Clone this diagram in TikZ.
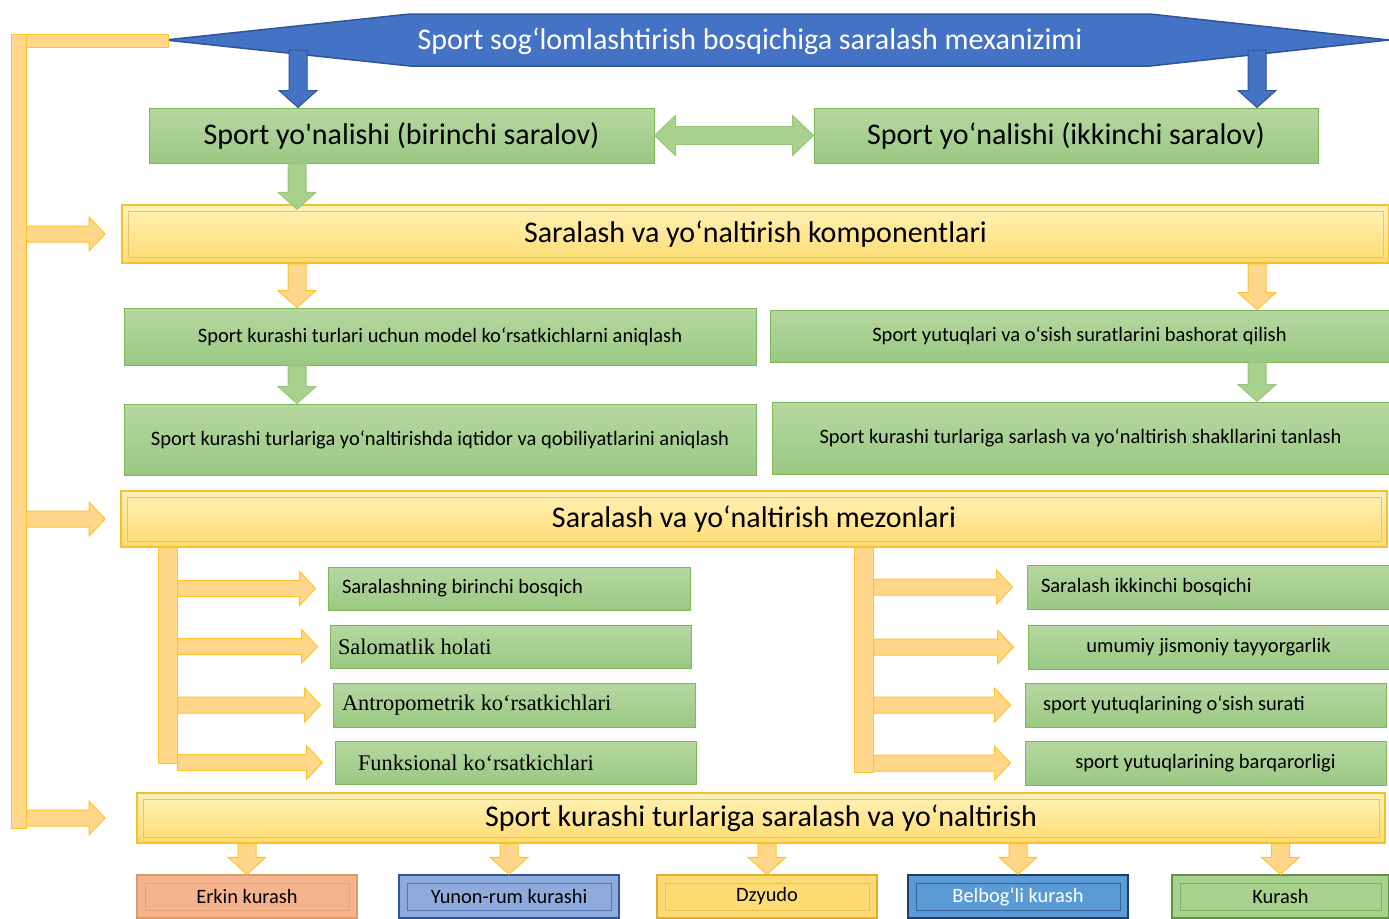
\documentclass[tikz,border=0pt]{standalone}
\usepackage{fontspec}
\setmainfont{Carlito}[Ligatures=TeXOff]
\newfontfamily\timesfont{Liberation Serif}
\usetikzlibrary{calc}

\definecolor{titleblue}{HTML}{4472C4}
\definecolor{titleedge}{HTML}{2F5597}
\definecolor{grtop}{HTML}{B6D8A1}
\definecolor{grbot}{HTML}{9AC882}
\definecolor{gredge}{HTML}{7DB85A}
\definecolor{yltop}{HTML}{FFF2B8}
\definecolor{ylbot}{HTML}{FFDB70}
\definecolor{yledge}{HTML}{F2C12E}
\definecolor{arfill}{HTML}{FFD68A}
\definecolor{aredge}{HTML}{FFC32E}
\definecolor{erkin}{HTML}{F6B48E}
\definecolor{yunon}{HTML}{8FAADC}
\definecolor{dzyudo}{HTML}{FFDC73}
\definecolor{belbog}{HTML}{5B9BD5}
\definecolor{kurash}{HTML}{A9D18E}

\tikzset{
  greenbox/.style={draw=gredge, line width=1pt, top color=grtop, bottom color=grbot,
    inner sep=0pt, font=\fontsize{20.5}{24}\selectfont},
  bigbox/.style={greenbox, font=\fontsize{30}{34}\selectfont},
  serifbox/.style={greenbox, align=flush left, font=\timesfont\fontsize{22.4}{26}\selectfont},
  yellowbar/.style={draw=yledge, line width=1.5pt, top color=yltop, bottom color=ylbot,
    inner sep=0pt, font=\fontsize{30}{34}\selectfont,
    path picture={\draw[line width=1pt, yledge!60!brown!70]
      ([shift={(6pt,-6pt)}]path picture bounding box.north west) rectangle
      ([shift={(-6pt,6pt)}]path picture bounding box.south east);}},
  wbox/.style n args={3}{fill=#1, draw=#2, text=#3, line width=1.5pt, inner sep=0pt,
    minimum width=220pt, minimum height=43pt, font=\fontsize{20.4}{24}\selectfont,
    path picture={\draw[line width=1pt, #2!60!#1]
      ([shift={(8pt,-8pt)}]path picture bounding box.north west) rectangle
      ([shift={(-8pt,8pt)}]path picture bounding box.south east);}},
  spine/.style={fill=arfill, draw=aredge, line width=1pt, inner sep=0pt},
  yblock/.style={fill=arfill, draw=aredge, line width=1pt},
  gblock/.style={fill=kurash, draw=gredge!80, line width=1pt},
  bblock/.style={fill=titleblue, draw=titleedge, line width=1pt},
  downblock/.style={to path={let \p1=(\tikztostart), \p2=(\tikztotarget) in
    (\x1-9pt,\y1) -- (\x1+9pt,\y1) -- (\x1+9pt,\y2+17pt) -- (\x1+19pt,\y2+17pt)
    -- (\x1,\y2) -- (\x1-19pt,\y2+17pt) -- (\x1-9pt,\y2+17pt) -- cycle}},
  rightblock/.style={to path={let \p1=(\tikztostart), \p2=(\tikztotarget) in
    (\x1,\y1+8pt) -- (\x2-16pt,\y1+8pt) -- (\x2-16pt,\y1+17pt) -- (\x2,\y1)
    -- (\x2-16pt,\y1-17pt) -- (\x2-16pt,\y1-8pt) -- (\x1,\y1-8pt) -- cycle}},
  dblblock/.style={to path={let \p1=(\tikztostart), \p2=(\tikztotarget) in
    (\x1,\y1) -- (\x1+21pt,\y1+20pt) -- (\x1+21pt,\y1+9pt) -- (\x2-21pt,\y1+9pt)
    -- (\x2-21pt,\y1+20pt) -- (\x2,\y1) -- (\x2-21pt,\y1-20pt) -- (\x2-21pt,\y1-9pt)
    -- (\x1+21pt,\y1-9pt) -- (\x1+21pt,\y1-20pt) -- cycle}}
}

\begin{document}
\begin{tikzpicture}[x=1pt,y=-1pt]
\useasboundingbox (0,0) rectangle (1389,918);

% title banner
\draw[fill=titleblue, draw=titleedge, line width=1.5pt]
  (165,40) -- (410,14) -- (1150,14) -- (1389,40) -- (1150,66) -- (410,66) -- cycle;
\node[text=white, font=\fontsize{30}{34}\selectfont] (title) at (750,41)
  {Sport sog‘lomlashtirish bosqichiga saralash mexanizimi};

% left bracket
\draw[spine] (11,34) rectangle (168,47);
\node[spine, minimum width=15pt, minimum height=794pt] (spine) at (18.5,431) {};

% first selection
\node[bigbox, minimum width=505pt, minimum height=55pt] (s1) at (401.5,135.5)
  {Sport yo'nalishi (birinchi saralov)};
\node[bigbox, minimum width=504pt, minimum height=55pt] (s2) at (1066,135.5)
  {Sport yo‘nalishi (ikkinchi saralov)};

\node[yellowbar, minimum width=1267pt, minimum height=58pt] (bar1) at (755.5,234)
  {Saralash va yo‘naltirish komponentlari};

\node[greenbox, minimum width=632pt, minimum height=57pt] (k1) at (440,336.5)
  {Sport kurashi turlari uchun model ko‘rsatkichlarni aniqlash};
\node[greenbox, minimum width=619pt, minimum height=52pt] (k2) at (1079.5,336)
  {Sport yutuqlari va o‘sish suratlarini bashorat qilish};
\node[greenbox, minimum width=632pt, minimum height=71pt] (k3) at (440,439.5)
  {Sport kurashi turlariga yo‘naltirishda iqtidor va qobiliyatlarini aniqlash};
\node[greenbox, minimum width=617pt, minimum height=72pt] (k4) at (1080.5,438)
  {Sport kurashi turlariga sarlash va yo‘naltirish shakllarini tanlash};

\node[yellowbar, minimum width=1266pt, minimum height=56pt] (bar2) at (754,519)
  {Saralash va yo‘naltirish mezonlari};

% criteria, left
\node[spine, minimum width=19pt, minimum height=216pt] (spineL) at (167.5,655) {};
\node[greenbox, minimum width=362pt, minimum height=43pt, inner xsep=14pt,
  text width=334pt, align=flush left] (m1) at (509,588.5) {Saralashning birinchi bosqich};
\node[serifbox, minimum width=361pt, minimum height=43pt, inner xsep=8pt,
  text width=345pt] (m2) at (510.5,646.5) {Salomatlik holati};
\node[serifbox, minimum width=362pt, minimum height=44pt, inner xsep=9pt,
  text width=344pt] (m3) at (514,705) {Antropometrik ko‘rsatkichlari};
\node[serifbox, minimum width=361pt, minimum height=43pt, inner xsep=23pt,
  text width=315pt] (m4) at (515.5,762.5) {Funksional ko‘rsatkichlari};

% criteria, right
\node[spine, minimum width=19pt, minimum height=225pt] (spineR) at (863.5,659.5) {};
\node[greenbox, minimum width=362pt, minimum height=44pt, inner xsep=14pt,
  text width=334pt, align=flush left] (n1) at (1208,587) {Saralash ikkinchi bosqichi};
\node[greenbox, minimum width=361pt, minimum height=44pt] (n2) at (1208.5,647)
  {umumiy jismoniy tayyorgarlik};
\node[greenbox, minimum width=361pt, minimum height=44pt, inner xsep=18pt,
  text width=325pt, align=flush left] (n3) at (1205.5,705) {sport yutuqlarining o‘sish surati};
\node[greenbox, minimum width=361pt, minimum height=44pt] (n4) at (1205.5,763)
  {sport yutuqlarining barqarorligi};

\node[yellowbar, minimum width=1248pt, minimum height=50pt] (bar3) at (761,818)
  {Sport kurashi turlariga saralash va yo‘naltirish};

% wrestling types
\node[wbox={erkin}{erkin!50!brown}{black}] (w1) at (247,896.5) {Erkin kurash};
\node[wbox={yunon}{titleedge}{black}] (w2) at (509,896.5) {Yunon-rum kurashi};
\node[wbox={dzyudo}{yledge!70!brown}{black}] (w3) at (767,896.5) {Dzyudo};
\node[wbox={belbog}{titleedge!70!black}{white}] (w4) at (1018,896.5) {Belbog‘li kurash};
\node[wbox={kurash}{gredge!80!black}{black}, minimum width=217pt] (w5) at (1280.5,896.5) {Kurash};

% arrows
\coordinate (b1) at (298,50);
\coordinate (b2) at (1257,50);
\coordinate (c1) at (297,0);
\coordinate (c2) at (1257,0);
\coordinate (tipx) at (105,0);
\draw[bblock, downblock] (b1) to (b1 |- s1.north);
\draw[bblock, downblock] (b2) to (b2 |- s2.north);
\draw[gblock, dblblock] (s1.east) to (s2.west);
\draw[gblock, downblock] (s1.south -| c1) to ([yshift=-5pt]bar1.north -| c1);
\draw[yblock, downblock] (bar1.south -| c1) to (k1.north -| c1);
\draw[yblock, downblock] (bar1.south -| c2) to (k2.north -| c2);
\draw[gblock, downblock] (k1.south -| c1) to (k3.north -| c1);
\draw[gblock, downblock] (k2.south -| c2) to (k4.north -| c2);
\foreach \b in {bar1,bar2,bar3}
  \draw[yblock, rightblock] (spine.east |- \b.west) to (tipx |- \b.west);
\foreach \t in {m1,m2,m3,m4}
  \draw[yblock, rightblock] (spineL.east |- \t.west) to ([xshift=-12pt]\t.west);
\foreach \t in {n1,n2,n3,n4}
  \draw[yblock, rightblock] (spineR.east |- \t.west) to ([xshift=-14pt]\t.west);
\foreach \w in {w1,w2,w3,w4,w5}
  \draw[yblock, downblock] (bar3.south -| \w.north) to (\w.north);
\end{tikzpicture}
\end{document}
